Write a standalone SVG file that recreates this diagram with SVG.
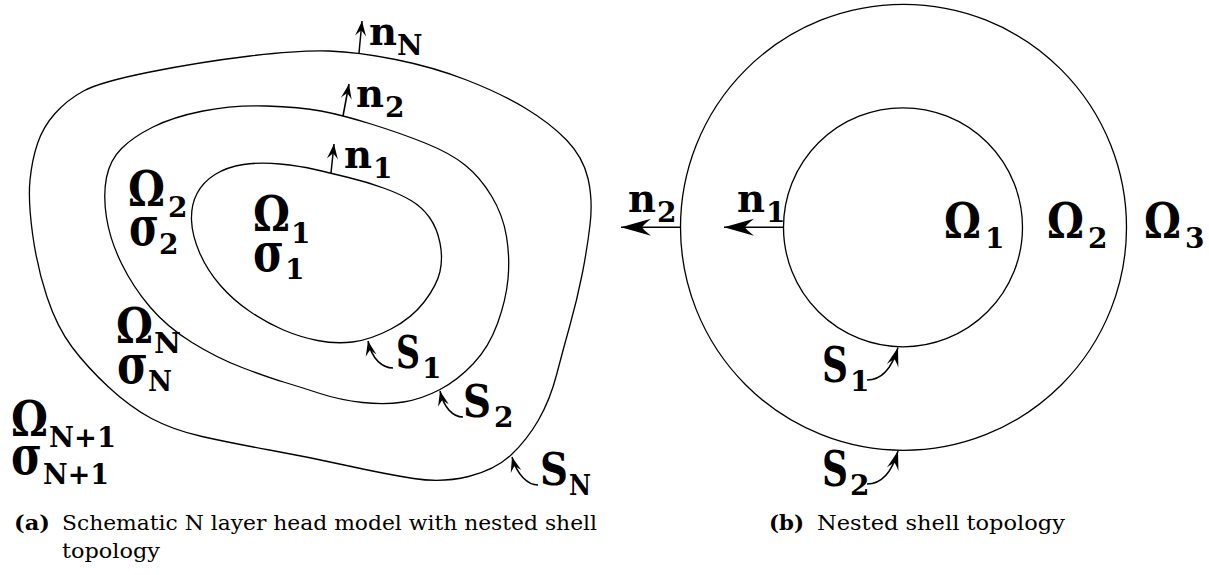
<svg xmlns="http://www.w3.org/2000/svg" width="1209" height="575" viewBox="0 0 1209 575">
<style>
.c{fill:none;stroke:#000;stroke-width:1.3}
.ar{fill:none;stroke:#000;stroke-width:1.5}
.t{font-weight:bold;fill:#000}
.g{font-size:49px}
.s{font-size:54px}
.n{font-size:39px}
.S{font-size:49px}
.Sl{font-size:45px}
.sb{font-size:28px}
.cap{font-size:20px;fill:#000}
.bd{font-weight:bold}
</style>
<defs>
<marker id="sm" viewBox="-16 -7 17 14" refX="0" refY="0" markerWidth="17" markerHeight="14" markerUnits="userSpaceOnUse" orient="auto"><path d="M0,0 L-15,-5.5 Q-10,-1 -9.5,0 Q-10,1 -15,5.5 Z" fill="#000"/></marker>
<marker id="md" viewBox="-20 -7 21 14" refX="0" refY="0" markerWidth="21" markerHeight="14" markerUnits="userSpaceOnUse" orient="auto"><path d="M0,0 L-19,-6 Q-13,-1.5 -12.5,0 Q-13,1.5 -19,6 Z" fill="#000"/></marker>
<marker id="lg" viewBox="-31 -9 32 18" refX="0" refY="0" markerWidth="32" markerHeight="18" markerUnits="userSpaceOnUse" orient="auto"><path d="M0,0 L-30,-8.5 Q-22,-2 -21,0 Q-22,2 -30,8.5 Z" fill="#000"/></marker>
</defs>

<g id="figA-shellN"><path class="c" d="M250,56 Q300,50 329,51 Q358,52 395.5,59.5 Q433,67 466.5,80 Q500,93 525,108 Q550,123 566.5,140 Q583,157 588,178.5 Q593,200 590,225 Q587,250 582,275 Q577,300 570,325 Q563,350 556.5,375 Q550,400 538.5,420 Q527,440 511,455 Q495,470 468.5,476.5 Q442,483 413.5,478.5 Q385,474 346.5,465.5 Q308,457 269.5,450 Q231,443 202,436.5 Q173,430 151.5,418.5 Q130,407 108.5,387 Q87,367 72,347 Q57,327 47,297 Q37,267 32.5,233.5 Q28,200 30,180 Q32,160 37.5,143.5 Q43,127 55,113.5 Q67,100 83.5,91 Q100,82 150,72 Q200,62 250,56 Z"/></g>
<g id="figA-shell2"><path class="c" d="M203,111 Q233,105 266.5,106 Q300,107 321,111 Q342,115 371,124 Q400,133 425,143 Q450,153 465,165 Q480,177 491.5,196 Q503,215 506.5,236.5 Q510,258 508,279 Q506,300 497.5,323.5 Q489,347 473.5,363.5 Q458,380 440,389.5 Q422,399 403.5,402 Q385,405 362.5,402.5 Q340,400 320,393.5 Q300,387 283.5,382 Q267,377 242,367.5 Q217,358 192,342.5 Q167,327 150,307 Q133,287 121.5,263.5 Q110,240 106.5,217.5 Q103,195 106.5,177.5 Q110,160 121.5,148.5 Q133,137 153,127 Q173,117 203,111 Z"/></g>
<g id="figA-shell1"><path class="c" d="M243.5,164.5 Q260,162 280,164 Q300,166 315,169.5 Q330,173 348.5,177.5 Q367,182 383.5,188 Q400,194 411,200.5 Q422,207 429.5,217.5 Q437,228 440,243 Q443,258 440,271.5 Q437,285 424.5,301.5 Q412,318 391,329 Q370,340 352.5,342 Q335,344 317.5,340.5 Q300,337 283.5,330 Q267,323 250,311.5 Q233,300 220,285 Q207,270 199.5,252.5 Q192,235 191.5,220 Q191,205 197,193.5 Q203,182 215,174.5 Q227,167 243.5,164.5 Z"/></g>

<g id="figB-inner"><circle class="c" cx="903" cy="227.3" r="119.5"/></g>
<g id="figB-outer"><circle class="c" cx="903.5" cy="227.3" r="223"/></g>

<g id="connectors">
<path class="ar" d="M359,53 L362,21" marker-end="url(#sm)"/>
<path class="ar" d="M343,116 L349,84" marker-end="url(#sm)"/>
<path class="ar" d="M331,173 L334,144" marker-end="url(#sm)"/>
<path class="ar" d="M393,368 C383,368 372,360 368,341" marker-end="url(#sm)"/>
<path class="ar" d="M463,417 C453,417 444,408 440,391" marker-end="url(#sm)"/>
<path class="ar" d="M538,485 C528,485 517,475 512,457" marker-end="url(#sm)"/>
<path class="ar" d="M680.5,227.3 L621,227.3" marker-end="url(#lg)"/>
<path class="ar" d="M783.5,227.3 L724,227.3" marker-end="url(#lg)"/>
<path class="ar" d="M867,380 C880,380 891,371 898,347.5" marker-end="url(#md)"/>
<path class="ar" d="M867,484 C880,484 891,475 898,451" marker-end="url(#md)"/>
</g>

<g id="labels-a" font-family="'DejaVu Serif', serif">
<text class="t n" x="369" y="45" textLength="28" lengthAdjust="spacingAndGlyphs">n</text><text class="t sb" x="397" y="55">N</text>
<text class="t n" x="356" y="107" textLength="28" lengthAdjust="spacingAndGlyphs">n</text><text class="t sb" x="385" y="117">2</text>
<text class="t n" x="344" y="168" textLength="28" lengthAdjust="spacingAndGlyphs">n</text><text class="t sb" x="373" y="178">1</text>
<text class="t g" x="128" y="206" textLength="37" lengthAdjust="spacingAndGlyphs">Ω</text><text class="t sb" x="168" y="217">2</text>
<text class="t s" x="129" y="245" textLength="30" lengthAdjust="spacingAndGlyphs">σ</text><text class="t sb" x="159" y="254">2</text>
<text class="t g" x="253" y="231" textLength="37" lengthAdjust="spacingAndGlyphs">Ω</text><text class="t sb" x="291" y="243">1</text>
<text class="t s" x="253" y="271" textLength="31" lengthAdjust="spacingAndGlyphs">σ</text><text class="t sb" x="285" y="279">1</text>
<text class="t g" x="116" y="343" textLength="37" lengthAdjust="spacingAndGlyphs">Ω</text><text class="t sb" x="154" y="353" textLength="27" lengthAdjust="spacingAndGlyphs">N</text>
<text class="t s" x="117" y="383" textLength="31" lengthAdjust="spacingAndGlyphs">σ</text><text class="t sb" x="148" y="391" textLength="24" lengthAdjust="spacingAndGlyphs">N</text>
<text class="t g" x="11" y="436" textLength="37" lengthAdjust="spacingAndGlyphs">Ω</text><text class="t sb" x="49" y="447" textLength="67" lengthAdjust="spacingAndGlyphs">N+1</text>
<text class="t s" x="11" y="474" textLength="31" lengthAdjust="spacingAndGlyphs">σ</text><text class="t sb" x="43" y="484" textLength="66" lengthAdjust="spacingAndGlyphs">N+1</text>
<text class="t Sl" x="396" y="368" textLength="24" lengthAdjust="spacingAndGlyphs">S</text><text class="t sb" x="422" y="378">1</text>
<text class="t Sl" x="463" y="417" textLength="28" lengthAdjust="spacingAndGlyphs">S</text><text class="t sb" x="494" y="427">2</text>
<text class="t Sl" x="540" y="485" textLength="28" lengthAdjust="spacingAndGlyphs">S</text><text class="t sb" x="569" y="495" textLength="22" lengthAdjust="spacingAndGlyphs">N</text>
</g>

<g id="labels-b" font-family="'DejaVu Serif', serif">
<text class="t n" x="628" y="212" textLength="28" lengthAdjust="spacingAndGlyphs">n</text><text class="t sb" x="657" y="222">2</text>
<text class="t n" x="737" y="212" textLength="28" lengthAdjust="spacingAndGlyphs">n</text><text class="t sb" x="766" y="222">1</text>
<text class="t g" x="944" y="238" textLength="37" lengthAdjust="spacingAndGlyphs">Ω</text><text class="t sb" x="985" y="248">1</text>
<text class="t g" x="1047" y="238" textLength="37" lengthAdjust="spacingAndGlyphs">Ω</text><text class="t sb" x="1088" y="248">2</text>
<text class="t g" x="1144" y="238" textLength="37" lengthAdjust="spacingAndGlyphs">Ω</text><text class="t sb" x="1185" y="248">3</text>
<text class="t S" x="822" y="382" textLength="26" lengthAdjust="spacingAndGlyphs">S</text><text class="t sb" x="850" y="391">1</text>
<text class="t S" x="822" y="486" textLength="26" lengthAdjust="spacingAndGlyphs">S</text><text class="t sb" x="850" y="495">2</text>
</g>

<g id="captions" font-family="'DejaVu Serif', serif">
<text class="cap" y="530"><tspan class="bd" x="14" textLength="36" lengthAdjust="spacingAndGlyphs">(a)</tspan><tspan x="62" textLength="535" lengthAdjust="spacingAndGlyphs">Schematic N layer head model with nested shell</tspan></text>
<text class="cap" x="62" y="558" textLength="98" lengthAdjust="spacingAndGlyphs">topology</text>
<text class="cap" y="530"><tspan class="bd" x="769" textLength="35" lengthAdjust="spacingAndGlyphs">(b)</tspan><tspan x="817" textLength="248" lengthAdjust="spacingAndGlyphs">Nested shell topology</tspan></text>
</g>
</svg>
